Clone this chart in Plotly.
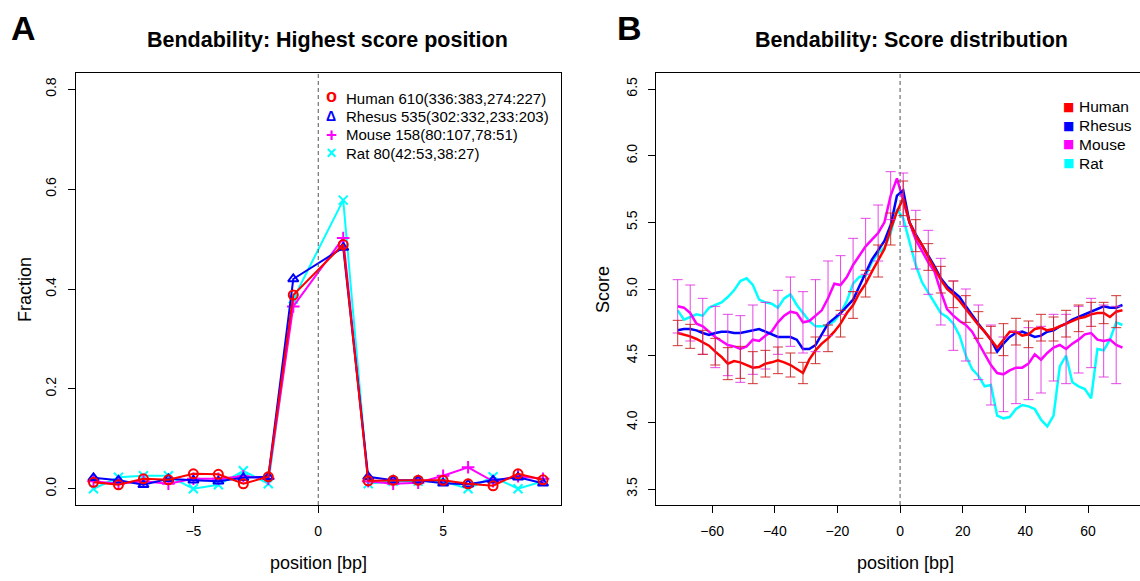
import plotly.graph_objects as go

W, H = 1140, 581

# ---------------- Panel A data ----------------
pos_a = [-9, -8, -7, -6, -5, -4, -3, -2, -1, 1, 2, 3, 4, 5, 6, 7, 8, 9]
frac_human = [0.013, 0.008, 0.020, 0.018, 0.030, 0.029, 0.010, 0.024, 0.388,
              0.489, 0.016, 0.017, 0.017, 0.017, 0.010, 0.006, 0.030, 0.018]
frac_rhesus = [0.022, 0.017, 0.008, 0.020, 0.017, 0.015, 0.022, 0.024, 0.420,
               0.483, 0.024, 0.017, 0.017, 0.011, 0.009, 0.017, 0.023, 0.011]
frac_mouse = [0.015, 0.010, 0.015, 0.010, 0.020, 0.020, 0.025, 0.020, 0.365,
              0.502, 0.015, 0.010, 0.012, 0.026, 0.043, 0.015, 0.025, 0.020]
frac_rat = [0.000, 0.023, 0.026, 0.026, 0.000, 0.008, 0.036, 0.010, 0.380,
            0.578, 0.010, 0.015, 0.015, 0.015, 0.000, 0.024, 0.000, 0.015]
legend_a = ["Human 610(336:383,274:227)", "Rhesus 535(302:332,233:203)",
            "Mouse 158(80:107,78:51)", "Rat 80(42:53,38:27)"]

# ---------------- Panel B data ----------------
pos_b = [-71, -69, -67, -65, -63, -61, -59, -57, -55, -53, -51, -49, -47, -45,
         -43, -41, -39, -37, -35, -33, -31, -29, -27, -25, -23, -21, -19, -17,
         -15, -13, -11, -9, -7, -5, -3, -1, 1, 3, 5, 7, 9, 11, 13, 15, 17, 19,
         21, 23, 25, 27, 29, 31, 33, 35, 37, 39, 41, 43, 45, 47, 49, 51, 53,
         55, 57, 59, 61, 63, 65, 67, 69, 71]
score_human = [4.67, 4.66, 4.645, 4.625, 4.60, 4.575, 4.53, 4.49, 4.44, 4.46,
               4.45, 4.43, 4.41, 4.415, 4.44, 4.45, 4.465, 4.45, 4.43, 4.40,
               4.37, 4.47, 4.54, 4.59, 4.63, 4.68, 4.74, 4.82, 4.88, 4.97,
               5.04, 5.13, 5.21, 5.30, 5.45, 5.58, 5.68, 5.50, 5.40, 5.33,
               5.24, 5.15, 5.07, 5.00, 4.96, 4.91, 4.85, 4.79, 4.73, 4.68,
               4.62, 4.56, 4.62, 4.68, 4.68, 4.65, 4.66, 4.70, 4.71, 4.69,
               4.70, 4.72, 4.74, 4.76, 4.78, 4.79, 4.81, 4.82, 4.82, 4.79,
               4.83, 4.84]
score_rhesus = [4.69, 4.70, 4.70, 4.69, 4.67, 4.655, 4.67, 4.68, 4.68, 4.67,
                4.67, 4.68, 4.69, 4.70, 4.68, 4.66, 4.64, 4.64, 4.64, 4.62,
                4.55, 4.55, 4.58, 4.66, 4.74, 4.78, 4.82, 4.87, 4.92, 5.02,
                5.12, 5.22, 5.29, 5.36, 5.48, 5.70, 5.74, 5.50, 5.41, 5.33,
                5.26, 5.17, 5.08, 5.02, 4.98, 4.94, 4.87, 4.80, 4.74, 4.68,
                4.62, 4.53, 4.59, 4.64, 4.67, 4.68, 4.66, 4.64, 4.65, 4.68,
                4.69, 4.72, 4.74, 4.77, 4.79, 4.81, 4.83, 4.85, 4.87, 4.86,
                4.86, 4.88]
score_mouse = [4.87, 4.86, 4.82, 4.74, 4.72, 4.68, 4.64, 4.61, 4.58, 4.57,
               4.55, 4.57, 4.62, 4.61, 4.65, 4.68, 4.75, 4.80, 4.83, 4.82,
               4.75, 4.76, 4.80, 4.84, 4.93, 5.04, 5.03, 5.09, 5.18, 5.25,
               5.32, 5.37, 5.42, 5.50, 5.70, 5.83, 5.67, 5.50, 5.37, 5.28,
               5.20, 5.13, 4.98, 4.85, 4.80, 4.76, 4.73, 4.68, 4.60, 4.52,
               4.43, 4.37, 4.36, 4.39, 4.41, 4.41, 4.44, 4.51, 4.47, 4.52,
               4.56, 4.58, 4.55, 4.59, 4.62, 4.66, 4.67, 4.62, 4.61, 4.62,
               4.58, 4.56]
score_rat = [4.84, 4.77, 4.79, 4.81, 4.80, 4.86, 4.88, 4.90, 4.94, 4.99,
             5.06, 5.08, 5.03, 4.92, 4.90, 4.89, 4.86, 4.93, 4.96, 4.88,
             4.82, 4.76, 4.72, 4.72, 4.73, 4.76, 4.82, 4.91, 5.04, 5.09,
             5.10, 5.20, 5.27, 5.31, 5.42, 5.60, 5.53, 5.36, 5.18, 5.05,
             4.97, 4.90, 4.82, 4.79, 4.74, 4.65, 4.50, 4.40, 4.35, 4.27,
             4.28, 4.05, 4.03, 4.04, 4.10, 4.13, 4.12, 4.10, 4.02, 3.97,
             4.05, 4.42, 4.50, 4.30, 4.27, 4.25, 4.18, 4.55, 4.54, 4.62,
             4.75, 4.73]
err_pos = [-71, -67, -63, -59, -55, -51, -47, -43, -39, -35, -31, -27, -23,
           -19, -15, -11, -7, -3, 1, 5, 9, 13, 17, 21, 25, 29, 33, 37, 41,
           45, 49, 53, 57, 61, 65, 69]
err_human = [0.095, 0.09, 0.09, 0.10, 0.12, 0.12, 0.12, 0.10, 0.10, 0.09,
             0.08, 0.10, 0.10, 0.10, 0.10, 0.10, 0.12, 0.12, 0.13, 0.12,
             0.10, 0.10, 0.10, 0.10, 0.10, 0.10, 0.12, 0.10, 0.10, 0.10,
             0.09, 0.10, 0.10, 0.09, 0.08, 0.12]
err_mouse = [0.20, 0.21, 0.21, 0.23, 0.23, 0.25, 0.26, 0.25, 0.24, 0.26,
             0.23, 0.27, 0.28, 0.22, 0.20, 0.21, 0.21, 0.18, 0.20, 0.22,
             0.24, 0.25, 0.26, 0.27, 0.28, 0.30, 0.28, 0.27, 0.27, 0.25,
             0.25, 0.26, 0.25, 0.26, 0.27, 0.29]
species = ["Human", "Rhesus", "Mouse", "Rat"]
colors = {"Human": "#FF0000", "Rhesus": "#0000FF", "Mouse": "#FF00FF", "Rat": "#00FFFF"}
symbols = {"Human": "circle-open", "Rhesus": "triangle-up-open",
           "Mouse": "cross-thin-open", "Rat": "x-thin-open"}
legend_glyphs = {"Human": "o", "Rhesus": "Δ", "Mouse": "+", "Rat": "×"}
legend_glyph_size = {"Human": 18, "Rhesus": 14, "Mouse": 19, "Rat": 18}

FONT = "Liberation Sans, Arial, Helvetica, sans-serif"

fig = go.Figure()

# ---------- Panel A ----------
frac = {"Human": frac_human, "Rhesus": frac_rhesus, "Mouse": frac_mouse, "Rat": frac_rat}
for sp in ["Rat", "Mouse", "Rhesus", "Human"]:
    fig.add_trace(go.Scatter(
        x=pos_a, y=frac[sp], mode="lines+markers", xaxis="x", yaxis="y",
        line=dict(color=colors[sp], width=2),
        marker=dict(symbol=symbols[sp], size=9, color=colors[sp],
                    line=dict(width=2, color=colors[sp])),
        showlegend=False, hoverinfo="skip"))

# ---------- Panel B ----------
score = {"Human": score_human, "Rhesus": score_rhesus, "Mouse": score_mouse, "Rat": score_rat}
for sp in ["Rat", "Mouse", "Rhesus", "Human"]:
    fig.add_trace(go.Scatter(
        x=pos_b, y=score[sp], mode="lines", xaxis="x2", yaxis="y2",
        line=dict(color=colors[sp], width=2.5),
        showlegend=False, hoverinfo="skip"))

for sp, err, ecol in [("Mouse", err_mouse, "rgba(225,40,225,0.85)"),
                      ("Human", err_human, "rgba(205,30,30,0.9)")]:
    yv = [score[sp][pos_b.index(p)] for p in err_pos]
    fig.add_trace(go.Scatter(
        x=err_pos, y=yv, mode="markers", xaxis="x2", yaxis="y2",
        marker=dict(size=1, color="rgba(0,0,0,0)"),
        error_y=dict(type="data", array=err, symmetric=True, color=ecol,
                     thickness=1, width=5),
        showlegend=False, hoverinfo="skip"))

# ---------- layout ----------
def px_x(p):
    return p / W

def px_y(p):
    return 1 - p / H

ydom = [px_y(505), px_y(73)]
axis_common = dict(showgrid=False, zeroline=False, showline=True, linecolor="black",
                   linewidth=1, ticks="outside", ticklen=7, tickcolor="black",
                   tickwidth=1, tickfont=dict(family=FONT, size=14, color="black"))

annotations = [
    dict(text="<b>A</b>", x=px_x(9), y=px_y(28), xanchor="left", yanchor="middle",
         font=dict(family=FONT, size=34, color="black")),
    dict(text="<b>B</b>", x=px_x(615), y=px_y(28), xanchor="left", yanchor="middle",
         font=dict(family=FONT, size=34, color="black")),
    dict(text="<b>Bendability: Highest score position</b>", x=px_x(327), y=px_y(40),
         xanchor="center", yanchor="middle", font=dict(family=FONT, size=21.5, color="black")),
    dict(text="<b>Bendability: Score distribution</b>", x=px_x(911), y=px_y(40),
         xanchor="center", yanchor="middle", font=dict(family=FONT, size=21.5, color="black")),
    dict(text="position [bp]", x=px_x(318), y=px_y(563), xanchor="center", yanchor="middle",
         font=dict(family=FONT, size=18, color="black")),
    dict(text="position [bp]", x=px_x(905), y=px_y(563), xanchor="center", yanchor="middle",
         font=dict(family=FONT, size=18, color="black")),
    dict(text="Fraction", x=px_x(25), y=px_y(290), xanchor="center", yanchor="middle",
         textangle=-90, font=dict(family=FONT, size=18, color="black")),
    dict(text="Score", x=px_x(603), y=px_y(290), xanchor="center", yanchor="middle",
         textangle=-90, font=dict(family=FONT, size=18, color="black")),
]

# legend of panel A (symbols + labels)
row0_a, step_a = 98, 18.4
for i, (sp, lab) in enumerate(zip(species, legend_a)):
    yy = px_y(row0_a + i * step_a)
    glyph_y = yy + (2.5 / H if sp == "Human" else 0)
    annotations.append(dict(text="<b>%s</b>" % legend_glyphs[sp], x=px_x(331), y=glyph_y,
                            xanchor="center", yanchor="middle",
                            font=dict(family=FONT, size=legend_glyph_size[sp],
                                      color=colors[sp])))
    annotations.append(dict(text=lab, x=px_x(344), y=yy, xanchor="left", yanchor="middle",
                            font=dict(family=FONT, size=15, color="black")))

# legend of panel B
row0_b, step_b = 107, 18.7
for i, sp in enumerate(species):
    yy = px_y(row0_b + i * step_b)
    annotations.append(dict(text="■", x=px_x(1068), y=yy, xanchor="center", yanchor="middle",
                            font=dict(family="DejaVu Sans", size=12, color=colors[sp])))
    annotations.append(dict(text=sp, x=px_x(1077), y=yy, xanchor="left", yanchor="middle",
                            font=dict(family=FONT, size=15.5, color="black")))

for a in annotations:
    a.update(xref="paper", yref="paper", showarrow=False)

fig.update_layout(
    width=W, height=H, margin=dict(l=0, r=0, t=0, b=0),
    paper_bgcolor="white", plot_bgcolor="white", showlegend=False,
    xaxis=dict(domain=[px_x(75.5), px_x(561)], range=[-9.72, 9.72],
               tickvals=[-5, 0, 5], mirror=True, anchor="y",
               ticklabelstandoff=6, **axis_common),
    yaxis=dict(domain=ydom, range=[-0.0325, 0.8325],
               tickvals=[0, 0.2, 0.4, 0.6, 0.8],
               ticktext=["0.0", "0.2", "0.4", "0.6", "0.8"],
               tickangle=-90, mirror=True, anchor="x",
               ticklabelstandoff=6, **axis_common),
    xaxis2=dict(domain=[px_x(656.4), 1.0], range=[-77.8, 76.6],
                tickvals=[-60, -40, -20, 0, 20, 40, 60], mirror=True, anchor="y2",
                ticklabelstandoff=6, **axis_common),
    yaxis2=dict(domain=ydom, range=[3.38, 6.62],
                tickvals=[3.5, 4.0, 4.5, 5.0, 5.5, 6.0, 6.5],
                ticktext=["3.5", "4.0", "4.5", "5.0", "5.5", "6.0", "6.5"],
                tickangle=-90, mirror=False, anchor="x2",
                ticklabelstandoff=6, **axis_common),
    shapes=[
        dict(type="line", xref="x", yref="y domain", x0=0, x1=0, y0=0, y1=1,
             line=dict(color="#555555", width=1, dash="4px,3px")),
        dict(type="line", xref="x2", yref="y2 domain", x0=0, x1=0, y0=0, y1=1,
             line=dict(color="#555555", width=1, dash="4px,3px")),
    ],
    annotations=annotations,
)

fig.write_html("out.html")
